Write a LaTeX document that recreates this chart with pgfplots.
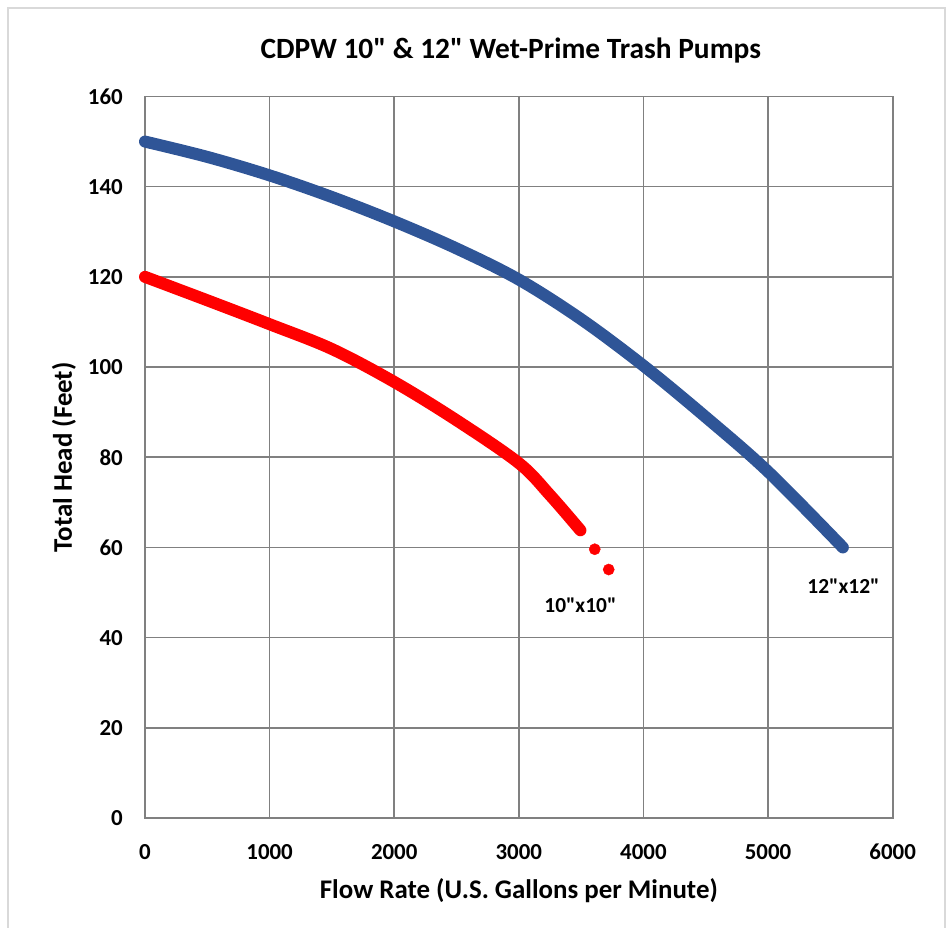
\documentclass[border=0pt]{standalone}
\usepackage{pgfplots}
\pgfplotsset{compat=1.18}
\usepackage{fontspec}
\setmainfont{Carlito}[Ligatures=TeXOff]
\definecolor{pumpblue}{HTML}{2F5597}
\definecolor{gridgray}{HTML}{808080}
\definecolor{framegray}{HTML}{D9D9D9}
\begin{document}
\begin{tikzpicture}[x=1bp,y=1bp]
\useasboundingbox (-145,-110) rectangle (806,818);
\draw[framegray, line width=1.5bp] (-137,-130) rectangle (800,810);
\begin{axis}[
  at={(0,0)}, anchor=south west,
  scale only axis,
  width=747.7bp, height=721.5bp,
  xmin=0, xmax=6000, ymin=0, ymax=160,
  xtick={0,1000,...,6000}, ytick={0,20,...,160},
  grid=major,
  grid style={gridgray, line width=1.6bp},
  axis line style={gridgray, line width=1.6bp},
  tick style={draw=none},
  scaled x ticks=false,
  /pgf/number format/assume math mode=true,
  /pgf/number format/set thousands separator={},
  tick label style={font=\fontsize{23}{26}\selectfont\bfseries},
  xticklabel style={inner sep=0pt, anchor=north, yshift=-26bp},
  yticklabel style={inner sep=0pt, anchor=east, xshift=-22bp},
  xlabel={Flow Rate (U.S. Gallons per Minute)},
  ylabel={Total Head (Feet)},
  label style={font=\fontsize{27}{30}\selectfont\bfseries},
  xlabel style={at={(axis description cs:0.5,0)}, anchor=center, yshift=-73bp},
  ylabel style={at={(axis description cs:0,0.5)}, anchor=center, yshift=81bp},
  title={CDPW 10" \& 12" Wet-Prime Trash Pumps},
  title style={font=\fontsize{29.5}{32}\selectfont\bfseries, at={(axis description cs:0.5,1)}, anchor=center, yshift=40bp, xshift=-8bp},
  clip=false,
]
\addplot[pumpblue, line width=12bp, line cap=round, smooth, tension=0.55] coordinates {
 (0,150) (500,146.6) (1000,142.5) (1500,137.7) (2000,132.3) (2500,126.3) (3000,119.4) (3500,110.6) (4000,100.3) (4500,88.9) (5000,76.8) (5600,60)
};
\addplot[red, line width=12bp, line cap=round, smooth, tension=0.55] coordinates {
 (0,120) (500,114.8) (1000,109.5) (1500,104) (2000,96.7) (2500,88.2) (3000,78.7) (3250,71.6) (3494,63.8)
};
\addplot[only marks, mark=*, mark size=5.6bp, red, mark options={draw=red, fill=red}] coordinates {
 (3609,59.6) (3721,55.1)
};
\node[font=\fontsize{21.5}{24}\selectfont\bfseries] at (axis cs:3494,47.1) {10"x10"};
\node[font=\fontsize{21.5}{24}\selectfont\bfseries] at (axis cs:5605,51.3) {12"x12"};
\end{axis}
\end{tikzpicture}
\end{document}
